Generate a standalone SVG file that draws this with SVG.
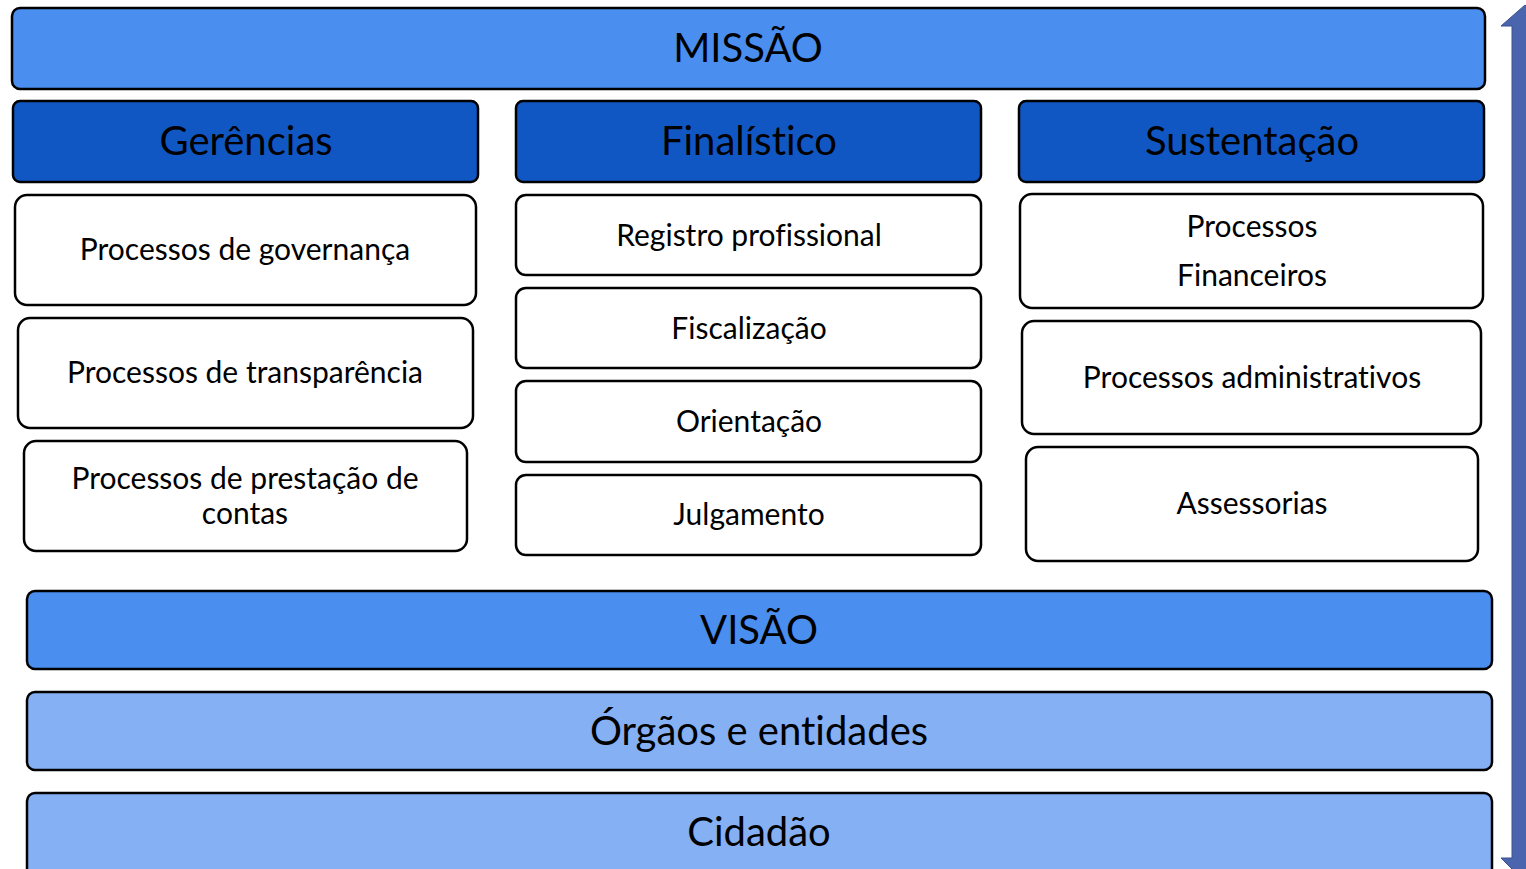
<svg xmlns="http://www.w3.org/2000/svg" width="1526" height="869" viewBox="0 0 1526 869">
<style>
rect{stroke:#000;stroke-width:2.5}
.m{fill:#4a8ef0}
.d{fill:#1157c4}
.l{fill:#85b0f4}
.w{fill:#fff}
text{font-family:Lato,"Noto Sans",sans-serif;fill:#000;text-anchor:middle;dominant-baseline:central;font-variant-ligatures:none}
.h{font-size:40px}
.t{font-size:30px}
</style>
<rect width="1526" height="869" fill="#fff" style="stroke:none"/>
<g id="arrow">
<polygon points="1525,5 1549,26 1538,26 1538,858 1549,858 1525,882 1501,858 1512,858 1512,26 1501,26" fill="#4a65ad" stroke="#3b5190" stroke-width="1"/>
</g>
<g id="missao"><rect class="m" x="12" y="8" width="1473" height="81" rx="8"/><text class="h" x="748" y="47">MISSÃO</text></g>
<g id="gerencias"><rect class="d" x="13" y="101" width="465" height="81" rx="7"/><text class="h" x="246" y="140">Gerências</text></g>
<g id="finalistico"><rect class="d" x="516" y="101" width="465" height="81" rx="7"/><text class="h" x="749" y="140">Finalístico</text></g>
<g id="sustentacao"><rect class="d" x="1019" y="101" width="465" height="81" rx="7"/><text class="h" x="1252" y="140">Sustentação</text></g>
<g id="governanca"><rect class="w" x="15" y="195" width="461" height="110" rx="12"/><text class="t" x="245" y="248">Processos de governança</text></g>
<g id="transparencia"><rect class="w" x="18" y="318" width="455" height="110" rx="12"/><text class="t" x="245" y="371">Processos de transparência</text></g>
<g id="prestacao"><rect class="w" x="24" y="441" width="443" height="110" rx="12"/><text class="t" x="245" y="477">Processos de prestação de</text><text class="t" x="245" y="512">contas</text></g>
<g id="registro"><rect class="w" x="516" y="195" width="465" height="80" rx="10"/><text class="t" x="749" y="234">Registro profissional</text></g>
<g id="fiscalizacao"><rect class="w" x="516" y="288" width="465" height="80" rx="10"/><text class="t" x="749" y="327">Fiscalização</text></g>
<g id="orientacao"><rect class="w" x="516" y="381" width="465" height="81" rx="10"/><text class="t" x="749" y="420">Orientação</text></g>
<g id="julgamento"><rect class="w" x="516" y="475" width="465" height="80" rx="10"/><text class="t" x="749" y="513">Julgamento</text></g>
<g id="financeiros"><rect class="w" x="1020" y="194" width="463" height="114" rx="12"/><text class="t" x="1252" y="225">Processos</text><text class="t" x="1252" y="274">Financeiros</text></g>
<g id="administrativos"><rect class="w" x="1022" y="321" width="459" height="113" rx="12"/><text class="t" x="1252" y="376">Processos administrativos</text></g>
<g id="assessorias"><rect class="w" x="1026" y="447" width="452" height="114" rx="12"/><text class="t" x="1252" y="502">Assessorias</text></g>
<g id="visao"><rect class="m" x="27" y="591" width="1465" height="78" rx="8"/><text class="h" x="759" y="629">VISÃO</text></g>
<g id="orgaos"><rect class="l" x="27" y="692" width="1465" height="78" rx="8"/><text class="h" x="759" y="730">Órgãos e entidades</text></g>
<g id="cidadao"><rect class="l" x="27" y="793" width="1465" height="85" rx="8"/><text class="h" x="759" y="831">Cidadão</text></g>
<g id="connectors"></g>
</svg>
